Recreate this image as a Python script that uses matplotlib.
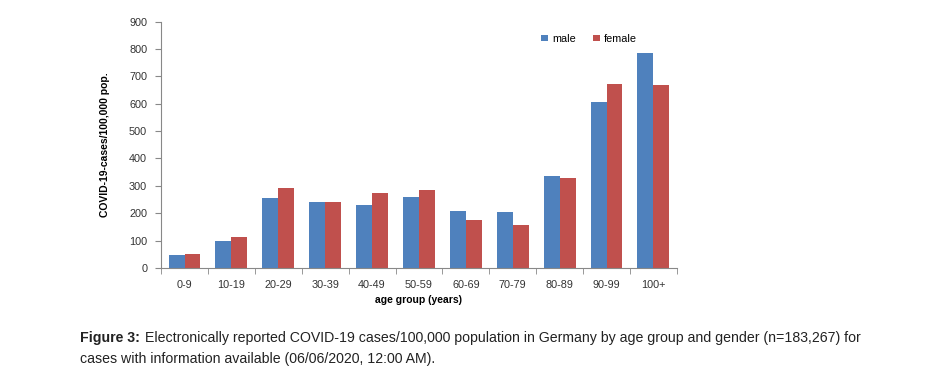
import numpy as np
import matplotlib.pyplot as plt

age_groups = ["0-9", "10-19", "20-29", "30-39", "40-49", "50-59",
              "60-69", "70-79", "80-89", "90-99", "100+"]
male = [48, 99, 255, 239, 231, 258, 208, 205, 336, 606, 784]
female = [49, 112, 292, 242, 273, 284, 175, 158, 329, 672, 667]

plt.rcParams['font.family'] = ['Liberation Sans', 'DejaVu Sans']

fig = plt.figure(figsize=(9.31, 3.86), dpi=100)
ax = fig.add_axes([0.173, 0.306, 0.554, 0.638])

x = np.arange(len(age_groups))
w = 0.34
ax.bar(x - w / 2, male, w, color='#4F81BD', label='male')
ax.bar(x + w / 2, female, w, color='#C0504D', label='female')

ax.set_xlim(-0.5, len(age_groups) - 0.5)
ax.set_ylim(0, 900)
ax.set_yticks(range(0, 901, 100))
ax.set_xticks(x)
ax.set_xticklabels(age_groups)
ax.set_xticks(np.arange(-0.5, len(age_groups)), minor=True)
ax.tick_params(axis='x', which='major', length=0, pad=9, labelsize=7.8, labelcolor='#333333')
ax.tick_params(axis='x', which='minor', length=4, direction='out', color='#888888')
ax.tick_params(axis='y', length=4, direction='out', color='#888888', labelsize=7.8, labelcolor='#333333', pad=6)

for s in ['top', 'right']:
    ax.spines[s].set_visible(False)
for s in ['left', 'bottom']:
    ax.spines[s].set_color('#888888')
    ax.spines[s].set_linewidth(0.8)

ax.set_ylabel("COVID-19-cases/100,000 pop.", fontsize=7.5, fontweight='bold', labelpad=14)
ax.set_xlabel("age group (years)", fontsize=7.5, fontweight='bold', labelpad=3)

ax.legend(loc='upper left', bbox_to_anchor=(0.718, 0.99), ncol=2, frameon=False,
          fontsize=7.8, handlelength=0.6, handleheight=0.6, columnspacing=1.6, handletextpad=0.4)

# caption
t1 = fig.text(0.086, 0.115, "Figure 3:", fontsize=10.2, fontweight='bold', color='#222222')
fig.canvas.draw()
bb = t1.get_window_extent()
fig.text((bb.x1 + 5) / fig.bbox.width, 0.115,
         "Electronically reported COVID-19 cases/100,000 population in Germany by age group and gender (n=183,267) for",
         fontsize=10.2, color='#222222')
fig.text(0.086, 0.06, "cases with information available (06/06/2020, 12:00 AM).",
         fontsize=10.2, color='#222222')

plt.savefig("out.png", dpi=100)
